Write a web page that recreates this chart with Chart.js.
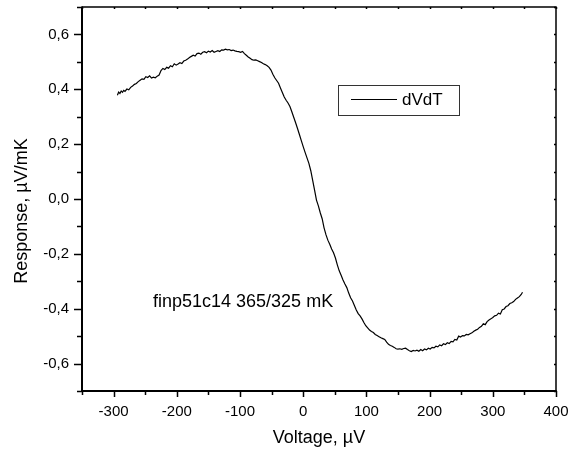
<!DOCTYPE html>
<html>
<head>
<meta charset="utf-8">
<script src="https://cdn.jsdelivr.net/npm/chart.js@4/dist/chart.umd.min.js"></script>
<style>
html,body{margin:0;padding:0;background:#fff;}
#wrap{position:relative;width:574px;height:452px;}
</style>
</head>
<body>
<div id="wrap"><canvas id="c" width="574" height="452"></canvas></div>
<script>
// ---- data ----
const seriesName = "dVdT";
const voltage = [
-294,-292,-290,-288,-286,-284,-282,-279,-276,-273,-270,-267,-264,-261,-258,-255,-252,-249,-246,-243,
-240,-237,-234,-231,-228,-225,-222,-219,-216,-213,-210,-207,-204,-201,-198,-195,-192,-189,-186,-183,
-180,-177,-174,-171,-168,-165,-162,-159,-156,-153,-150,-147,-144,-141,-138,-135,-132,-129,-126,-123,
-120,-117,-114,-111,-108,-105,-102,-99,-96,-93,-90,-87,-84,-81,-78,-75,-72,-69,-66,-63,
-60,-57,-54,-51,-48,-45,-42,-39,-36,-33,-30,-27,-24,-21,-18,-15,-12,-9,-6,-3,
0,3,6,9,12,15,18,21,24,27,30,33,36,39,42,45,48,51,54,57,
60,63,66,69,72,75,78,81,84,87,90,93,96,99,102,105,108,111,114,117,
120,123,126,129,132,135,138,141,144,147,150,153,156,159,162,165,168,171,174,177,
180,183,186,189,192,195,198,201,204,207,210,213,216,219,222,225,228,231,234,237,
240,243,246,249,252,255,258,261,264,267,270,273,276,279,282,285,288,291,294,297,
300,303,306,309,312,315,318,321,324,327,330,333,336,339,342,345,347
];
const response = [
0.378,0.390,0.385,0.394,0.389,0.396,0.392,0.401,0.398,0.407,0.412,0.418,0.421,0.428,0.433,0.438,0.436,0.446,0.443,0.449,
0.441,0.444,0.442,0.448,0.452,0.468,0.476,0.472,0.480,0.477,0.486,0.482,0.493,0.488,0.492,0.497,0.494,0.503,0.506,0.510,
0.516,0.520,0.524,0.521,0.530,0.532,0.528,0.535,0.537,0.533,0.539,0.536,0.541,0.535,0.538,0.541,0.538,0.544,0.543,0.546,
0.544,0.545,0.541,0.543,0.540,0.538,0.537,0.535,0.538,0.530,0.524,0.518,0.513,0.508,0.506,0.507,0.504,0.501,0.498,0.493,
0.490,0.486,0.480,0.470,0.455,0.442,0.432,0.422,0.405,0.388,0.372,0.360,0.350,0.337,0.318,0.298,0.278,0.257,0.235,0.213,
0.191,0.170,0.150,0.130,0.103,0.068,0.032,-0.004,-0.025,-0.050,-0.072,-0.105,-0.130,-0.150,-0.165,-0.182,-0.196,-0.215,-0.240,-0.262,
-0.278,-0.295,-0.310,-0.323,-0.343,-0.360,-0.372,-0.388,-0.405,-0.418,-0.426,-0.437,-0.450,-0.462,-0.470,-0.478,-0.483,-0.487,-0.494,-0.498,
-0.502,-0.506,-0.509,-0.512,-0.522,-0.530,-0.534,-0.537,-0.541,-0.546,-0.547,-0.546,-0.548,-0.545,-0.544,-0.549,-0.553,-0.556,-0.552,-0.554,
-0.551,-0.555,-0.549,-0.553,-0.547,-0.550,-0.544,-0.547,-0.541,-0.543,-0.537,-0.539,-0.532,-0.535,-0.528,-0.531,-0.524,-0.527,-0.519,-0.521,
-0.512,-0.514,-0.500,-0.503,-0.498,-0.499,-0.494,-0.495,-0.491,-0.488,-0.482,-0.478,-0.475,-0.468,-0.464,-0.455,-0.458,-0.447,-0.441,-0.437,
-0.432,-0.426,-0.424,-0.416,-0.419,-0.404,-0.401,-0.392,-0.389,-0.381,-0.378,-0.374,-0.366,-0.361,-0.356,-0.348,-0.340
];
const xLabelValues = [-300,-200,-100,0,100,200,300,400];
const yLabelValues = [-0.6,-0.4,-0.2,0.0,0.2,0.4,0.6];
const xTitle = "Voltage, \u00B5V";
const yTitle = "Response, \u00B5V/mK";
const noteText = "finp51c14 365/325 mK";

const points = voltage.map((v, i) => ({x: v, y: response[i]}));
const FONT = "'Liberation Sans', Arial, sans-serif";

function isLabelX(v){ return xLabelValues.some(t => Math.abs(t - v) < 1e-6); }
function isLabelY(v){ return yLabelValues.some(t => Math.abs(t - v) < 1e-6); }

const framePlugin = {
  id: 'frame',
  afterDraw(chart) {
    const ctx = chart.ctx, a = chart.chartArea;
    const xs = chart.scales.x, ys = chart.scales.y;
    ctx.save();
    ctx.strokeStyle = '#000';
    // frame
    ctx.lineWidth = 1.5;
    ctx.beginPath();
    ctx.moveTo(a.left, a.top); ctx.lineTo(a.right, a.top); ctx.lineTo(a.right, a.bottom);
    ctx.stroke();
    ctx.lineWidth = 2;
    ctx.beginPath();
    ctx.moveTo(a.left, a.top - 0.5); ctx.lineTo(a.left, a.bottom); ctx.lineTo(a.right + 0.75, a.bottom);
    ctx.stroke();
    // y ticks
    ctx.lineWidth = 1.5;
    for (let k = -7; k <= 7; k++) {
      const v = k / 10;
      const p = Math.round(ys.getPixelForValue(v)) + 0.5;
      const len = isLabelY(v) ? 8 : 5;
      ctx.beginPath();
      ctx.moveTo(a.left - len, p); ctx.lineTo(a.left, p);
      ctx.moveTo(a.right, p); ctx.lineTo(a.right - 2, p);
      ctx.stroke();
    }
    // x ticks
    for (let k = -7; k <= 8; k++) {
      const v = k * 50;
      const p = Math.round(xs.getPixelForValue(v)) + 0.5;
      const len = isLabelX(v) ? 6 : 4;
      ctx.beginPath();
      ctx.moveTo(p, a.bottom); ctx.lineTo(p, a.bottom + len);
      ctx.moveTo(p, a.top); ctx.lineTo(p, a.top + 2);
      ctx.stroke();
    }
    // axis titles
    ctx.fillStyle = '#000';
    ctx.font = '18px ' + FONT;
    ctx.textAlign = 'center';
    ctx.textBaseline = 'middle';
    ctx.fillText(xTitle, (a.left + a.right) / 2, 438);
    ctx.save();
    ctx.translate(22, 211);
    ctx.rotate(-Math.PI / 2);
    ctx.fillText(yTitle, 0, 0);
    ctx.restore();
    // annotation
    ctx.font = '18px ' + FONT;
    ctx.textAlign = 'left';
    ctx.fillText(noteText, 153, 302);
    // legend box
    ctx.lineWidth = 1;
    ctx.strokeStyle = '#333';
    ctx.strokeRect(338.5, 85.5, 121, 30);
    ctx.strokeStyle = '#000';
    ctx.beginPath();
    ctx.moveTo(351, 99.5); ctx.lineTo(397, 99.5);
    ctx.stroke();
    ctx.font = '17px ' + FONT;
    ctx.fillText(seriesName, 402, 100);
    ctx.restore();
  }
};

new Chart(document.getElementById('c'), {
  type: 'scatter',
  data: {
    datasets: [{
      label: seriesName,
      data: points,
      showLine: true,
      borderColor: '#000',
      borderWidth: 1.2,
      pointRadius: 0,
      tension: 0
    }]
  },
  options: {
    responsive: false,
    animation: false,
    devicePixelRatio: 1,
    layout: { padding: { top: 7, right: 18, left: 0, bottom: 0 } },
    plugins: { legend: { display: false }, tooltip: { enabled: false } },
    scales: {
      x: {
        type: 'linear', min: -350, max: 400,
        grid: { display: false, drawTicks: false },
        border: { display: false },
        afterFit(s) { s.height = 61; s.paddingLeft = 0; s.paddingRight = 0; },
        ticks: {
          stepSize: 50, autoSkip: false, maxRotation: 0, padding: 12,
          color: '#000', font: { family: FONT, size: 15 },
          callback: v => isLabelX(v) ? String(v) : ''
        }
      },
      y: {
        type: 'linear', min: -0.7, max: 0.7,
        grid: { display: false, drawTicks: false },
        border: { display: false },
        afterFit(s) { s.width = 82; s.paddingTop = 0; s.paddingBottom = 0; },
        ticks: {
          stepSize: 0.1, autoSkip: false, padding: 13,
          color: '#000', font: { family: FONT, size: 15 },
          callback: v => {
            const r = Math.round(v * 10) / 10;
            return isLabelY(r) ? Math.abs(r).toFixed(1).replace('.', ',').replace(/^/, r < 0 ? '-' : '') : '';
          }
        }
      }
    }
  },
  plugins: [framePlugin]
});
</script>
</body>
</html>
